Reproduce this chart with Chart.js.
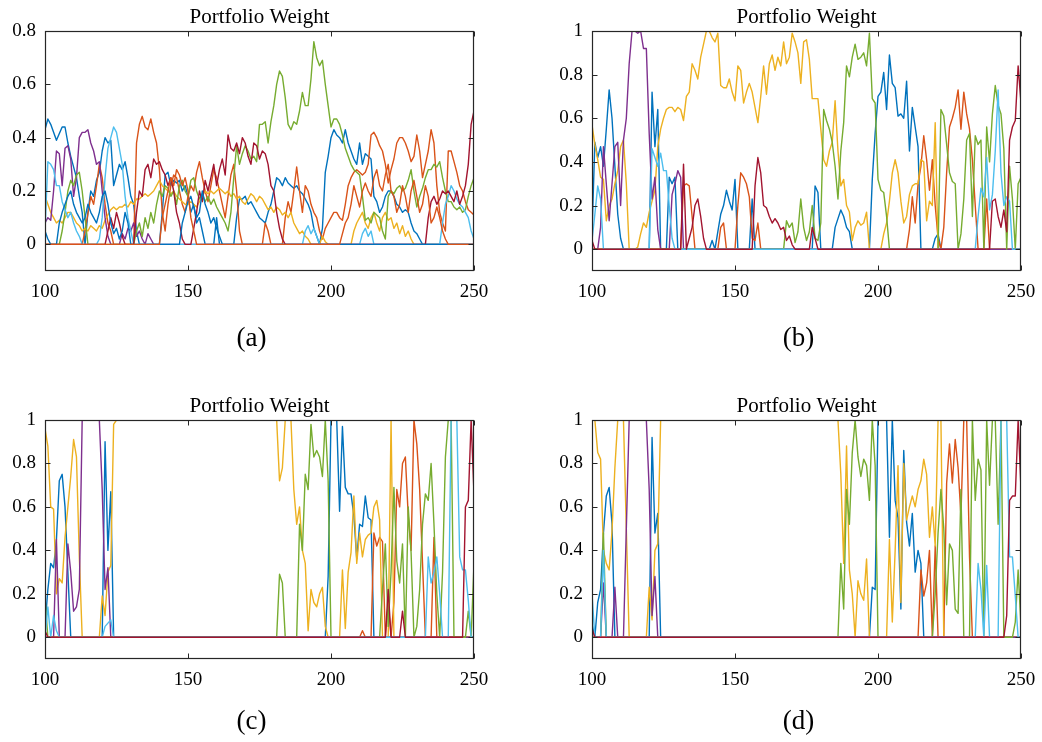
<!DOCTYPE html>
<html>
<head>
<meta charset="utf-8">
<script src="https://cdn.jsdelivr.net/npm/chart.js@4/dist/chart.umd.min.js"></script>
<style>
  html, body { margin: 0; padding: 0; background: #fff; overflow: hidden; }
  #fig { position: relative; width: 1042px; height: 742px; }
  .panel { position: absolute; width: 521px; height: 371px; }
  .panel canvas { display: block; }
</style>
</head>
<body>
<div id="fig">
  <div class="panel" style="left:0;top:0"><canvas id="pa" width="521" height="371"></canvas></div>
  <div class="panel" style="left:521px;top:0"><canvas id="pb" width="521" height="371"></canvas></div>
  <div class="panel" style="left:0;top:371px"><canvas id="pc" width="521" height="371"></canvas></div>
  <div class="panel" style="left:521px;top:371px"><canvas id="pd" width="521" height="371"></canvas></div>
</div>
<script>
// Axis ticks and labels
const xTicks = [100, 150, 200, 250];
const yTicksA = [0, 0.2, 0.4, 0.6, 0.8];
const yTicksB = [0, 0.2, 0.4, 0.6, 0.8, 1];
const panelTitle = 'Portfolio Weight';
const panelLabels = ['(a)', '(b)', '(c)', '(d)'];

// Portfolio weights per asset, [t, weight]
// (a)
const aBlue = [[100,.43],[101,.47],[102,.45],[104,.39],[106,.44],[107,.44],[108,.38],[109,.33],[111,.25],[112,.18],[113,.12],[114,0],[115,.12],[116,.2],[117,.18],[118,.24],[119,.27],[120,.35],[121,.4],[122,.38],[123,.39],[124,.22],[125,.26],[126,.3],[127,.28],[128,.31],[129,.25],[130,.18],[131,.15],[132,.05],[133,0],[140,0],[141,.12],[142,.26],[143,.27],[144,.22],[145,.24],[146,.23],[147,.24],[148,.2],[149,.22],[150,.18],[151,.12],[152,.15],[153,.08],[154,.1],[155,.05],[156,0],[159,0],[160,.1],[161,0],[166,0],[167,.1],[168,.17],[169,.17],[170,.18],[171,.15],[172,.16],[173,.14],[174,.12],[175,.1],[176,.09],[177,.08],[178,.12],[179,.15],[180,.2],[181,.25],[182,.24],[183,.22],[184,.25],[185,.23],[186,.22],[187,.21],[188,.22],[189,.2],[190,.19],[191,.17],[192,.15],[193,.12],[194,.06],[195,.03],[196,0],[197,.06],[198,.27],[199,.33],[200,.4],[201,.43],[202,.41],[203,.4],[204,.38],[205,.43],[206,.38],[207,.35],[208,.32],[209,.3],[210,.38],[211,.3],[212,.34],[213,.33],[214,.32],[215,.18],[216,.16],[217,.12],[218,.14],[219,.18],[220,.2],[221,.2],[222,.18],[223,.15],[224,.14],[225,.12],[226,.13],[227,.12],[228,.08],[229,.05],[230,.04],[231,.02],[232,0],[250,0]];
const aOrange = [[100,0],[113,0],[114,.05],[116,.18],[117,.15],[118,.22],[119,.3],[120,.25],[121,.15],[122,.08],[123,.05],[124,0],[131,0],[132,.38],[133,.45],[134,.48],[135,.44],[136,.43],[137,.47],[138,.42],[139,.38],[140,.28],[141,.12],[142,.05],[143,.15],[144,.22],[145,.26],[146,.25],[147,.2],[148,.15],[149,.12],[150,.18],[151,.22],[152,.2],[153,.27],[154,.31],[155,.25],[156,.2],[157,.16],[158,.22],[159,.28],[160,.25],[161,.2],[162,.15],[163,.1],[164,.18],[165,.26],[166,.3],[167,.2],[168,.05],[169,0],[176,0],[177,.08],[178,.05],[179,0],[183,0],[184,.1],[185,.16],[186,.12],[187,.2],[188,.29],[189,.2],[190,.12],[191,.22],[192,.2],[193,.15],[194,.12],[195,.1],[196,.05],[197,.02],[198,.06],[199,.08],[200,.1],[201,.12],[202,.12],[203,.1],[204,.09],[205,.15],[206,.22],[207,.25],[208,.27],[209,.28],[210,.27],[211,.26],[212,.27],[213,.3],[214,.41],[215,.42],[216,.4],[217,.37],[218,.35],[219,.3],[220,.23],[221,.28],[222,.32],[223,.38],[224,.4],[225,.4],[226,.38],[227,.35],[228,.31],[229,.33],[230,.41],[231,.35],[232,.25],[233,.3],[234,.35],[235,.43],[236,.38],[237,.22],[238,.12],[239,.08],[240,.05],[241,.35],[242,.35],[243,.31],[244,.27],[245,.22],[246,.2],[247,.16],[248,.13],[249,.12],[250,.11]];
const aYellow = [[100,.18],[101,.15],[102,.12],[103,.1],[104,.08],[105,.09],[106,.08],[107,.1],[108,.12],[109,.12],[110,.1],[111,.08],[112,.07],[113,.05],[114,.06],[115,.05],[116,.07],[117,.06],[118,.05],[119,.07],[120,.06],[121,.09],[122,.11],[123,.13],[124,.14],[125,.13],[126,.14],[127,.14],[128,.15],[129,.14],[130,.16],[131,.15],[132,.17],[133,.17],[134,.18],[135,.19],[136,.18],[137,.19],[138,.2],[139,.22],[140,.24],[141,.22],[142,.21],[143,.2],[144,.19],[145,.2],[146,.18],[147,.17],[148,.16],[149,.15],[150,.15],[151,.16],[152,.15],[153,.14],[154,.16],[155,.18],[156,.2],[157,.19],[158,.2],[159,.19],[160,.2],[161,.21],[162,.2],[163,.19],[164,.2],[165,.18],[166,.19],[167,.17],[168,.18],[169,.16],[170,.15],[171,.17],[172,.19],[173,.18],[174,.16],[175,.18],[176,.17],[177,.15],[178,.13],[179,.14],[180,.12],[181,.14],[182,.13],[183,.11],[184,.12],[185,.1],[186,.12],[187,.08],[188,.06],[189,.04],[190,.05],[191,.03],[192,.02],[193,0],[196,0],[197,.03],[198,.01],[199,0],[207,0],[208,.05],[209,.08],[210,.1],[211,.12],[212,.08],[213,.06],[214,.1],[215,.12],[216,.08],[217,.05],[218,.1],[219,.12],[220,.09],[221,.1],[222,.06],[223,.08],[224,.04],[225,.07],[226,.03],[227,.05],[228,.02],[229,0],[250,0]];
const aPurple = [[100,.08],[101,.1],[102,.09],[103,.2],[104,.35],[105,.34],[106,.22],[107,.36],[108,.37],[109,.32],[110,.18],[111,.25],[112,.4],[113,.42],[114,.42],[115,.43],[116,.38],[117,.35],[118,.3],[119,.31],[120,.2],[121,.1],[122,.03],[123,0],[126,0],[127,.04],[128,.02],[129,.06],[130,.05],[131,.08],[132,.03],[133,.05],[134,.02],[135,0],[136,.04],[137,.02],[138,0],[250,0]];
const aGreen = [[100,0],[105,0],[106,.05],[107,.12],[108,.2],[109,.24],[110,.22],[111,.26],[112,.27],[113,.2],[114,.1],[115,0],[131,0],[132,.05],[133,.08],[134,.03],[135,.1],[136,.06],[137,.12],[138,.08],[139,.15],[140,.2],[141,.18],[142,.22],[143,.21],[144,.18],[145,.2],[146,.15],[147,.22],[148,.24],[149,.2],[150,.18],[151,.24],[152,.25],[153,.2],[154,.17],[155,.19],[156,.16],[157,.18],[158,.15],[159,.17],[160,.14],[161,.12],[162,.1],[163,.08],[164,.05],[165,.12],[166,.25],[167,.37],[168,.3],[169,.34],[170,.37],[171,.35],[172,.32],[173,.33],[174,.31],[175,.45],[176,.45],[177,.46],[178,.38],[179,.46],[180,.52],[181,.6],[182,.65],[183,.63],[184,.55],[185,.45],[186,.43],[187,.46],[188,.45],[189,.5],[190,.57],[191,.52],[192,.52],[193,.62],[194,.76],[195,.7],[196,.67],[197,.69],[198,.6],[199,.52],[200,.44],[201,.47],[202,.47],[203,.45],[204,.41],[205,.36],[206,.33],[207,.3],[208,.28],[209,.27],[210,.26],[211,.18],[212,.09],[213,.1],[214,.08],[215,.12],[216,.11],[217,.1],[218,.05],[219,.02],[220,.18],[221,.2],[222,.19],[223,.21],[224,.22],[225,.2],[226,.21],[227,.24],[228,.28],[229,.2],[230,.14],[231,.18],[232,.21],[233,.25],[234,.28],[235,.28],[236,.3],[237,.29],[238,.31],[239,.25],[240,.2],[241,.16],[242,.16],[243,.14],[244,.13],[245,.14],[246,.12],[247,.13],[248,.18],[249,.22],[250,.25]];
const aLightBlue = [[100,.05],[101,.31],[102,.3],[103,.28],[104,.22],[105,.22],[106,.16],[107,.13],[108,.1],[109,.12],[110,.08],[111,.05],[112,.03],[113,0],[118,0],[119,.02],[120,.1],[121,.25],[122,.36],[123,.4],[124,.44],[125,.42],[126,.36],[127,.3],[128,.18],[129,.1],[130,.05],[131,0],[190,0],[191,.05],[192,.07],[193,.04],[194,.06],[195,.03],[196,0],[210,0],[211,.04],[212,.06],[213,.03],[214,.05],[215,0],[238,0],[239,.08],[240,.15],[241,.18],[242,.22],[243,.2],[244,.17],[245,.15],[246,.14],[247,.12],[248,.1],[249,.05],[250,.02]];
const aDarkRed = [[100,0],[121,0],[122,.05],[123,.1],[124,.06],[125,.12],[126,.08],[127,.03],[128,0],[131,0],[132,.12],[133,.2],[134,.18],[135,.28],[136,.3],[137,.25],[138,.32],[139,.3],[140,.31],[141,.28],[142,.26],[143,.22],[144,.25],[145,.2],[146,.12],[147,.08],[148,.02],[149,0],[151,0],[152,.06],[153,.12],[154,.2],[155,.16],[156,.24],[157,.2],[158,.25],[159,.3],[160,.22],[161,.28],[162,.32],[163,.26],[164,.41],[165,.36],[166,.35],[167,.38],[168,.34],[169,.4],[170,.38],[171,.33],[172,.3],[173,.38],[174,.37],[175,.32],[176,.35],[177,.34],[178,.3],[179,.22],[180,.2],[181,.12],[182,.06],[183,.02],[184,0],[233,0],[234,.1],[235,.16],[236,.18],[237,.15],[238,.17],[239,.2],[240,.19],[241,.2],[242,.18],[243,.16],[244,.2],[245,.15],[246,.18],[247,.22],[248,.3],[249,.45],[250,.5]];
const aBlue2 = [[100,.05],[101,.02],[102,0],[104,0],[105,.08],[106,.12],[107,.15],[108,.18],[109,.2],[110,.15],[111,.12],[112,.1],[113,.08],[114,.1],[115,.15],[116,.12],[117,.1],[118,.08],[119,.12],[120,.18],[121,.2],[122,.15],[123,.08],[124,.04],[125,.06],[126,.02],[127,.05],[128,.12],[129,.08],[130,0],[147,0],[148,.08],[149,.12],[150,.16],[151,.18],[152,.14],[153,.1],[154,.12],[155,.2],[156,.15],[157,.12],[158,.08],[159,.1],[160,.06],[161,.03],[162,0],[250,0]];
const aOrange2 = [[100,0],[140,0],[141,.1],[142,.15],[143,.2],[144,.25],[145,.22],[146,.28],[147,.26],[148,.22],[149,.25],[150,.2],[151,.1],[152,.05],[153,0],[203,0],[204,.04],[205,.08],[206,.1],[207,.15],[208,.22],[209,.18],[210,.14],[211,.2],[212,.23],[213,.2],[214,.18],[215,.25],[216,.28],[217,.22],[218,.2],[219,.26],[220,.3],[221,.2],[222,.18],[223,.12],[224,.15],[225,.22],[226,.18],[227,.12],[228,.2],[229,.24],[230,.18],[231,.12],[232,.15],[233,.22],[234,.18],[235,.08],[236,.1],[237,.14],[238,.1],[239,.05],[240,.02],[241,0],[250,0]];

// (b)
const bBlue = [[100,.07],[101,.49],[102,.42],[103,.47],[104,.38],[105,.55],[106,.73],[107,.6],[108,.38],[109,.16],[110,.05],[111,0],[120,0],[121,.72],[122,.47],[123,.64],[124,0],[126,0],[127,.33],[128,.3],[129,.33],[130,0],[141,0],[142,.04],[143,0],[144,.08],[145,.16],[146,.2],[147,.27],[148,.22],[149,.18],[150,.32],[151,0],[155,0],[156,.23],[157,0],[177,0],[178,.29],[179,.26],[180,0],[184,0],[185,.1],[186,.14],[187,.18],[188,.15],[189,.1],[190,.08],[191,0],[197,0],[198,.32],[199,.53],[200,.7],[201,.72],[202,.81],[203,.64],[204,.89],[205,.76],[206,.74],[207,.61],[208,.62],[209,.6],[210,.77],[211,.45],[212,.65],[213,.56],[214,.47],[215,0],[219,0],[220,.05],[221,.07],[222,0],[250,0]];
const bOrange = [[100,0],[131,0],[132,.29],[133,.3],[134,.29],[135,.15],[136,0],[144,0],[145,.1],[146,.12],[147,0],[150,0],[151,.2],[152,.35],[153,.33],[154,.3],[155,.24],[156,.05],[157,.04],[158,.12],[159,0],[210,0],[211,.09],[212,.24],[213,.12],[214,.3],[215,.38],[216,.52],[217,.41],[218,.27],[219,.41],[220,.2],[221,.05],[222,0],[223,.1],[224,.35],[225,.56],[226,.6],[227,.65],[228,.73],[229,.55],[230,.72],[231,.62],[232,.55],[233,.41],[234,.2],[235,0],[237,0],[238,.23],[239,0],[250,0]];
const bYellow = [[100,.57],[101,.48],[102,.41],[103,.33],[104,.32],[105,.13],[106,.2],[107,.23],[108,.3],[109,.36],[110,.47],[111,.5],[112,.3],[113,0],[115,0],[116,.01],[117,.07],[118,.12],[119,.1],[120,.17],[121,.22],[122,.27],[123,.47],[124,.55],[125,.6],[126,.64],[127,.65],[128,.65],[129,.63],[130,.65],[131,.64],[132,.59],[133,.7],[134,.72],[135,.85],[136,.82],[137,.78],[138,.88],[139,.94],[140,1],[141,1],[142,.97],[143,.95],[144,.99],[145,.75],[146,.74],[147,.74],[148,.78],[149,.72],[150,.68],[151,.84],[152,.82],[153,.67],[154,.72],[155,.76],[156,.72],[157,.65],[158,.58],[159,.7],[160,.84],[161,.71],[162,.85],[163,.89],[164,.82],[165,.88],[166,.84],[167,.95],[168,.85],[169,.88],[170,.99],[171,.95],[172,.9],[173,.76],[174,.95],[175,.96],[176,.87],[177,.69],[178,.69],[179,.69],[180,.55],[181,.41],[182,.38],[183,.45],[184,.49],[185,.68],[186,.45],[187,.29],[188,.32],[189,.2],[190,.17],[191,.04],[192,.1],[193,.13],[194,.11],[195,.12],[196,.17],[197,0],[201,0],[202,.07],[203,.12],[204,.22],[205,.35],[206,.41],[207,.35],[208,.22],[209,.12],[210,.15],[211,.25],[212,.29],[213,.3],[214,.3],[215,.41],[216,.4],[217,.13],[218,.22],[219,.2],[220,.58],[221,0],[250,0]];
const bPurple = [[100,0],[102,0],[103,.1],[104,.47],[105,.3],[106,.13],[107,.3],[108,.47],[109,.49],[110,.2],[111,.5],[112,.6],[113,.85],[114,1],[115,1],[116,.99],[117,1],[118,.92],[119,.92],[120,.53],[121,.23],[122,.33],[123,.09],[124,0],[127,0],[128,.25],[129,.3],[130,.36],[131,.33],[132,0],[250,0]];
const bGreen = [[100,0],[167,0],[168,.13],[169,.1],[170,.12],[171,.03],[172,.08],[173,.23],[174,.1],[175,.04],[176,.08],[177,.2],[178,.05],[179,.04],[180,.12],[181,.64],[182,.59],[183,.55],[184,.49],[185,.38],[186,.23],[187,.45],[188,.58],[189,.84],[190,.79],[191,.88],[192,.94],[193,.87],[194,.88],[195,.9],[196,.84],[197,.99],[198,.69],[199,.67],[200,.32],[201,.27],[202,.26],[203,.15],[204,0],[221,0],[222,.64],[223,.61],[224,.48],[225,.35],[226,.31],[227,.3],[228,0],[229,.07],[230,.23],[231,.5],[232,.53],[233,.15],[234,.52],[235,.48],[236,.5],[237,0],[238,.56],[239,.4],[240,.62],[241,.75],[242,.66],[243,.62],[244,.46],[245,0],[246,.38],[247,.23],[248,0],[249,.3],[250,.33]];
const bLightBlue = [[100,.04],[101,.16],[102,.29],[103,.23],[104,0],[120,0],[121,.46],[122,.42],[123,.38],[124,.44],[125,.36],[126,.36],[127,.2],[128,.05],[129,0],[234,0],[235,.15],[236,.28],[237,.24],[238,.42],[239,.18],[240,.25],[241,.45],[242,.73],[243,.35],[244,.2],[245,.24],[246,.22],[247,0],[250,0]];
const bDarkRed = [[100,.04],[101,0],[131,0],[132,.39],[133,0],[134,.05],[135,.1],[136,.2],[137,.23],[138,.15],[139,.05],[140,0],[156,0],[157,.29],[158,.42],[159,.35],[160,.2],[161,.19],[162,.15],[163,.12],[164,.14],[165,.12],[166,.09],[167,.1],[168,.04],[169,.06],[170,.02],[171,0],[176,0],[177,.1],[178,.05],[179,0],[239,0],[240,.22],[241,.23],[242,.15],[243,.1],[244,.18],[245,.08],[246,.5],[247,.56],[248,.59],[249,.84],[250,.67]];

// (c)
const cBlue = [[100,.05],[101,.22],[102,.34],[103,.32],[104,.45],[105,.72],[106,.75],[107,.6],[108,.3],[109,0],[120,0],[121,.9],[122,.4],[123,.67],[124,0],[198,0],[199,.28],[200,1],[202,1],[203,.58],[204,.97],[205,.69],[206,.66],[207,.66],[208,.56],[209,.36],[210,.52],[211,.51],[212,.65],[213,.55],[214,.54],[215,0],[250,0]];
const cOrange = [[100,0],[210,0],[211,.03],[212,0],[214,0],[215,.48],[216,.42],[217,.46],[218,.44],[219,0],[220,.16],[221,0],[222,.16],[223,.68],[224,.6],[225,.8],[226,.83],[227,.56],[228,.4],[229,1],[230,.89],[231,.68],[232,.34],[233,0],[235,0],[236,.46],[237,0],[250,0]];
const cYellow = [[100,.96],[101,.88],[102,.6],[103,.59],[104,.2],[105,.27],[106,.25],[107,.46],[108,.6],[109,.74],[110,.91],[111,.83],[112,.37],[113,0],[119,0],[120,.19],[121,.1],[122,.3],[123,.33],[124,.98],[125,1],[181,1],[182,.72],[183,.78],[184,1],[186,1],[187,.68],[188,.52],[189,.6],[190,.4],[191,.34],[192,.03],[193,.22],[194,.16],[195,.14],[196,.2],[197,.23],[198,.05],[199,0],[203,0],[204,.31],[205,.04],[206,.3],[207,.39],[208,.65],[209,.34],[210,.48],[211,.37],[212,.45],[213,.47],[214,.48],[215,.6],[216,.63],[217,.54],[218,0],[220,0],[221,1],[222,0],[250,0]];
const cPurple = [[100,0],[103,0],[104,.45],[105,0],[107,0],[108,.43],[109,.3],[110,.12],[111,.14],[112,.22],[113,1],[119,1],[120,.68],[121,.22],[122,.32],[123,0],[250,0]];
const cGreen = [[100,.18],[101,0],[181,0],[182,.29],[183,.25],[184,0],[188,0],[189,.52],[190,.4],[191,.75],[192,.68],[193,.98],[194,.83],[195,.86],[196,.83],[197,.74],[198,1],[199,.72],[200,0],[217,0],[218,.22],[219,.43],[220,.05],[221,.3],[222,.69],[223,.35],[224,.25],[225,.43],[226,0],[227,.6],[228,.39],[229,0],[230,.05],[231,.22],[232,.52],[233,.66],[234,.63],[235,.8],[236,.52],[237,.2],[238,0],[239,.3],[240,.83],[241,1],[242,1],[243,0],[247,0],[248,.12],[249,0],[250,.34]];
const cLightBlue = [[100,0],[101,.14],[102,0],[103,.1],[104,.03],[105,0],[120,0],[121,.05],[123,.08],[124,0],[233,0],[234,.37],[235,.25],[236,.3],[237,.37],[238,.2],[239,0],[241,0],[242,1],[244,1],[245,.37],[246,.31],[247,.31],[248,.17],[249,0],[250,0]];
const cDarkRed = [[100,.03],[101,0],[219,0],[220,.22],[221,0],[224,0],[225,.12],[226,0],[246,0],[247,.6],[248,.63],[249,1],[250,.66]];

// (d)
const dBlue = [[100,.06],[101,0],[102,.16],[103,.22],[104,.48],[105,.65],[106,.69],[107,.52],[108,0],[120,0],[121,.92],[122,.48],[123,.57],[124,0],[197,0],[198,.23],[199,.22],[200,1],[203,1],[204,.46],[205,1],[206,.63],[207,.55],[208,.13],[209,.86],[210,.53],[211,.42],[212,.57],[213,.3],[214,.4],[215,.34],[216,0],[250,0]];
const dOrange = [[100,0],[214,0],[215,.31],[216,.19],[217,.25],[218,.4],[219,0],[220,.42],[221,0],[223,0],[224,.71],[225,.89],[226,.71],[227,.91],[228,.78],[229,.56],[230,1],[231,1],[232,.37],[233,0],[250,0]];
const dYellow = [[100,1],[101,1],[102,.85],[103,.82],[104,.4],[105,.34],[106,.31],[107,.49],[108,.78],[109,1],[111,1],[112,.5],[113,0],[119,0],[120,.23],[121,.08],[122,.4],[123,.43],[124,1],[186,1],[187,.75],[188,.34],[189,.88],[190,.31],[191,.2],[192,0],[193,.26],[194,.2],[195,.17],[196,.36],[197,0],[203,0],[204,.45],[205,.07],[206,.4],[207,.79],[208,.16],[209,.8],[210,.54],[211,.6],[212,.65],[213,.6],[214,.68],[215,.72],[216,.82],[217,.75],[218,.46],[219,.6],[220,.42],[221,1],[222,1],[223,0],[250,0]];
const dPurple = [[100,0],[103,0],[104,.25],[105,0],[107,0],[108,.23],[109,0],[111,0],[112,.5],[113,1],[119,1],[120,.68],[121,.1],[122,.28],[123,0],[250,0]];
const dGreen = [[100,0],[103,0],[104,.48],[105,0],[186,0],[187,.34],[188,.13],[189,.68],[190,.52],[191,.85],[192,1],[193,.83],[194,.74],[195,.82],[196,.79],[197,.63],[198,1],[199,.79],[200,0],[219,0],[220,.2],[221,.48],[222,.68],[223,.5],[224,.15],[225,.43],[226,.4],[227,.13],[228,.11],[229,.68],[230,0],[232,0],[233,1],[234,.63],[235,.82],[236,.77],[237,0],[238,1],[239,.7],[240,1],[241,1],[242,.52],[243,1],[244,0],[247,0],[248,.07],[249,.31],[250,.05]];
const dLightBlue = [[100,.2],[101,0],[103,0],[104,.4],[105,0],[234,0],[235,.34],[236,.22],[237,0],[238,.33],[239,0],[242,0],[243,1],[245,1],[246,.37],[247,.37],[248,.19],[249,0],[250,0]];
const dDarkRed = [[100,.04],[101,0],[244,0],[245,.1],[246,.63],[247,.65],[248,.65],[249,1],[250,.68]];

// Line colours (MATLAB default colour order)
const palette = {
  blue: '#0072BD', orange: '#D95319', yellow: '#EDB120', purple: '#7E2F8E',
  green: '#77AC30', lightBlue: '#4DBEEE', darkRed: '#A2142F'
};
const order7 = ['blue', 'orange', 'yellow', 'purple', 'green', 'lightBlue', 'darkRed'];

const FONT = "'Liberation Serif', 'Times New Roman', serif";
Chart.defaults.font.family = FONT;
Chart.defaults.font.size = 19;
Chart.defaults.color = '#000';

// Axes box, inward tick marks on all four sides, title and panel caption
const framePlugin = {
  id: 'frame',
  afterDatasetsDraw(chart, args, opts) {
    const { ctx, chartArea: a, scales: { x, y } } = chart;
    const L = Math.round(a.left) + 0.5, R = Math.round(a.right) - 0.5;
    const T = Math.round(a.top) + 0.5, B = Math.round(a.bottom) - 0.5;
    const len = 5;
    ctx.save();
    ctx.strokeStyle = '#262626';
    ctx.lineWidth = 1;
    ctx.beginPath();
    xTicks.forEach(v => {
      const px = Math.round(x.getPixelForValue(v)) + 0.5;
      ctx.moveTo(px, B); ctx.lineTo(px, B - len);
      ctx.moveTo(px, T); ctx.lineTo(px, T + len);
    });
    y.ticks.forEach(t => {
      const py = Math.round(y.getPixelForValue(t.value)) + 0.5;
      ctx.moveTo(L, py); ctx.lineTo(L + len, py);
      ctx.moveTo(R, py); ctx.lineTo(R - len, py);
    });
    ctx.stroke();
    ctx.lineWidth = 1.2;
    ctx.strokeRect(L, T, R - L, B - T);
    ctx.fillStyle = '#000';
    ctx.textAlign = 'center';
    ctx.textBaseline = 'alphabetic';
    ctx.font = '21px ' + FONT;
    ctx.fillText(opts.title, (a.left + a.right) / 2, a.top - 8);
    ctx.font = '27px ' + FONT;
    ctx.fillText(opts.caption, (a.left + a.right) / 2 - 8, a.bottom + opts.captionGap);
    ctx.restore();
  }
};

const panels = [
  { id: 'pa', series: [aBlue, aOrange, aYellow, aPurple, aGreen, aLightBlue, aDarkRed, aBlue2, aOrange2],
    yMin: -0.1, yMax: 0.8, yTicks: yTicksA, pad: { left: 5, right: 47, top: 31, bottom: 60 }, caption: panelLabels[0], gap: 75 },
  { id: 'pb', series: [bBlue, bOrange, bYellow, bPurple, bGreen, bLightBlue, bDarkRed],
    yMin: -0.1, yMax: 1, yTicks: yTicksB, pad: { left: 31, right: 21, top: 31, bottom: 60 }, caption: panelLabels[1], gap: 75 },
  { id: 'pc', series: [cBlue, cOrange, cYellow, cPurple, cGreen, cLightBlue, cDarkRed],
    yMin: -0.1, yMax: 1, yTicks: yTicksB, pad: { left: 5, right: 47, top: 49, bottom: 43 }, caption: panelLabels[2], gap: 70 },
  { id: 'pd', series: [dBlue, dOrange, dYellow, dPurple, dGreen, dLightBlue, dDarkRed],
    yMin: -0.1, yMax: 1, yTicks: yTicksB, pad: { left: 31, right: 21, top: 49, bottom: 43 }, caption: panelLabels[3], gap: 70 }
];

panels.forEach(p => {
  const n = p.series.length;
  const datasets = p.series.map((s, i) => ({
    data: s,
    borderColor: palette[order7[i % 7]],
    borderWidth: 1.4,
    borderJoinStyle: 'round',
    pointRadius: 0,
    tension: 0,
    fill: false,
    order: n - i   // later assets are painted on top
  }));
  new Chart(document.getElementById(p.id), {
    type: 'line',
    data: { datasets },
    plugins: [framePlugin],
    options: {
      responsive: false,
      animation: false,
      events: [],
      layout: { padding: p.pad, autoPadding: false },
      plugins: {
        legend: { display: false },
        title: { display: false },
        tooltip: { enabled: false },
        frame: { title: panelTitle, caption: p.caption, captionGap: p.gap }
      },
      scales: {
        x: {
          type: 'linear', min: 100, max: 250,
          grid: { display: false, drawTicks: false },
          border: { display: false },
          ticks: { padding: 10, maxRotation: 0, minRotation: 0, autoSkip: false, color: '#000' },
          afterBuildTicks: s => { s.ticks = xTicks.map(v => ({ value: v })); },
          afterFit: s => { s.height = 40; s.paddingLeft = 0; s.paddingRight = 0; }
        },
        y: {
          type: 'linear', min: p.yMin, max: p.yMax,
          grid: { display: false, drawTicks: false },
          border: { display: false },
          ticks: { padding: 9, color: '#000', callback: v => String(+v.toFixed(1)) },
          afterBuildTicks: s => { s.ticks = p.yTicks.map(v => ({ value: v })); },
          afterFit: s => { s.width = 40; s.paddingTop = 0; s.paddingBottom = 0; }
        }
      }
    }
  });
});
</script>
</body>
</html>
